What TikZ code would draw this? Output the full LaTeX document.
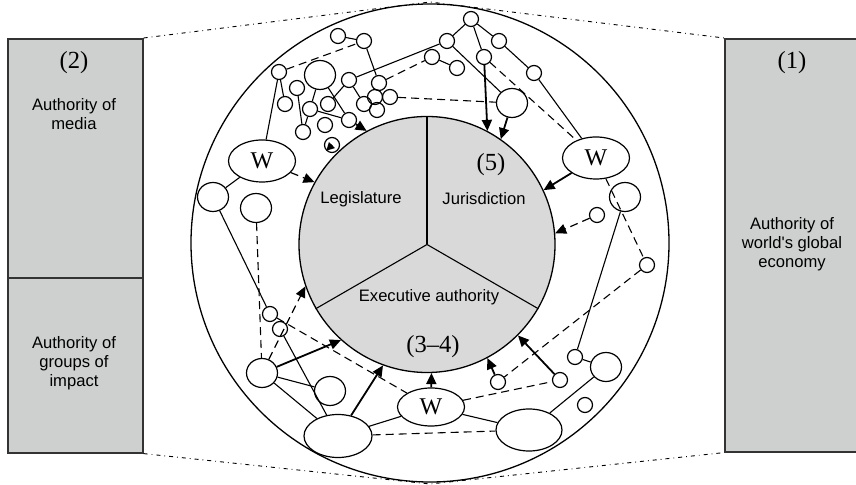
\documentclass[tikz,border=0pt]{standalone}
\usepackage{fontspec}
\setmainfont{Liberation Sans}
\newfontfamily\tnr[Ligatures=TeX]{Liberation Serif}
\usetikzlibrary{arrows.meta,shapes.geometric}
\definecolor{boxgray}{RGB}{206,208,208}
\definecolor{coregray}{RGB}{217,217,217}
\begin{document}
\begin{tikzpicture}[x=0.5pt,y=-0.5pt,
  sc/.style={circle,draw,line width=0.6pt,inner sep=0pt,minimum size=7.5pt},
  mc/.style={ellipse,draw,line width=0.6pt,inner sep=0pt,minimum width=15.5pt,minimum height=14.5pt},
  lc/.style={ellipse,draw,line width=0.6pt,inner sep=0pt,minimum width=34pt,minimum height=21.5pt},
  wn/.style={ellipse,draw,line width=0.6pt,inner sep=0pt,minimum width=33.5pt,minimum height=21pt,font=\tnr\fontsize{12}{12}\selectfont},
  link/.style={line width=0.55pt},
  dlink/.style={line width=0.55pt,dash pattern=on 4pt off 2.5pt},
  push/.style={line width=0.9pt,-{Triangle[length=5.5pt,width=5pt]}},
  dpush/.style={line width=0.6pt,dash pattern=on 4pt off 2.5pt,-{Triangle[length=5.5pt,width=5pt]}},
  frame/.style={line width=0.45pt,dash pattern=on 2pt off 2pt on 0.4pt off 2pt},
  panel/.style={draw=black!80,line width=0.8pt,fill=boxgray,inner sep=0pt,anchor=north west},
  lbl/.style={font=\fontsize{8.3}{9.5}\selectfont,align=center},
  num/.style={font=\tnr\fontsize{12.3}{14}\selectfont}
]
\useasboundingbox (0,0) rectangle (856,485);

% side panels
\node[panel,minimum width=67.5pt,minimum height=119.5pt] (lboxT) at (7,38) {};
\node[panel,minimum width=67.5pt,minimum height=87.5pt] (lboxB) at (7,277) {};
\node[panel,minimum width=68pt,minimum height=206.5pt] (rbox) at (724,38) {};
\node[num] (n2) at (74,63) {(2)};
\node[lbl] (t2) at (74,114) {Authority of\\media};
\node[lbl] (tg) at (74,363) {Authority of\\groups of\\impact};
\node[num] (n1) at (792,63) {(1)};
\node[lbl] (t1) at (792,244) {Authority of\\world\textquotesingle s global\\economy};

% dash-dot frame towards the ring
\coordinate (fTop) at (430,2);
\coordinate (fBot) at (430,484);
\draw[frame] (lboxT.north east) -- (fTop) -- (rbox.north west);
\draw[frame] (lboxB.south east) -- (fBot) -- (rbox.south west);

% ring and core
\node[circle,draw,line width=0.65pt,minimum size=239pt,inner sep=0pt] (ring) at (430,243) {};
\node[circle,draw,fill=coregray,line width=0.65pt,minimum size=128pt,inner sep=0pt] (core) at (427,244.5) {};
\draw[line width=0.55pt] (core.center) -- (core.90);
\draw[line width=0.55pt] (core.center) -- (core.210);
\draw[line width=0.55pt] (core.center) -- (core.330);
\node[lbl] (leg) at (361,199) {Legislature};
\node[lbl] (jur) at (484,199) {Jurisdiction};
\node[num] (n5) at (491,165) {(5)};
\node[lbl] (exe) at (429,297) {Executive authority};
\node[num] (n34) at (433,347) {(3–4)};

% upper left cluster
\node[sc] (A1) at (338,36) {};
\node[sc] (A2) at (364,41) {};
\node[sc] (A3) at (279,72) {};
\node[mc] (A4) at (320,75) {};
\node[sc] (A5) at (297,88) {};
\node[sc] (A6) at (285,104) {};
\node[sc] (A7) at (349,80) {};
\node[sc] (A8) at (379,83) {};
\node[sc] (A9) at (328,104) {};
\node[sc] (A10) at (310,109) {};
\node[sc] (A11) at (364,104) {};
\node[sc] (A12) at (375,97) {};
\node[sc] (A13) at (390,97) {};
\node[sc] (A14) at (377,110) {};
\node[sc] (A15) at (349,120) {};
\node[sc] (A16) at (325,125) {};
\node[sc] (A17) at (303,132) {};
\node[sc] (A18) at (332,145) {};

% upper right cluster
\node[sc] (B1) at (471,19) {};
\node[sc] (B2) at (447,41) {};
\node[sc] (B3) at (432,57) {};
\node[sc] (B4) at (457,68) {};
\node[sc] (B5) at (499,41) {};
\node[sc] (B6) at (484,57) {};
\node[sc] (B7) at (534,73) {};
\node[mc] (C) at (512,103) {};

% W nodes
\node[wn] (W1) at (262,161) {W};
\node[wn] (W2) at (596,158) {W};
\node[wn,minimum height=19pt] (W3) at (431,407) {W};

% left side
\node[mc] (L1) at (213,197) {};
\node[mc] (L2) at (256,208) {};
\node[sc] (G1) at (270,314) {};
\node[sc] (G2) at (280,329) {};
\node[mc] (F1) at (262,373) {};
\node[mc] (F2) at (330,391) {};
\node[lc] (E1) at (338,436) {};

% right side
\node[lc,minimum width=33pt,minimum height=21pt] (E2) at (529,430) {};
\node[sc] (H1) at (498,382) {};
\node[sc] (H2) at (560,380) {};
\node[sc] (I1) at (575,357) {};
\node[mc] (I2) at (606,367) {};
\node[sc] (I3) at (585,405) {};
\node[sc] (D1) at (597,215) {};
\node[mc] (D2) at (625,197) {};
\node[sc] (D3) at (647,265) {};

% solid links
\draw[link] (A1) -- (A2);
\draw[link] (A3) -- (A6);
\draw[link] (A3) -- (W1);
\draw[link] (A2) -- (A8);
\draw[link] (A5) -- (A17);
\draw[link] (A4) -- (A10);
\draw[link] (A4) -- (A15);
\draw[link] (A10) -- (A15);
\draw[link] (A10) -- (A17);
\draw[link] (A9) -- (A7);
\draw[link] (A7) -- (A11);
\draw[link] (A7) -- (B2);
\draw[link] (B1) -- (B2);
\draw[link] (B1) -- (B5);
\draw[link] (B1) -- (B6);
\draw[link] (B3) -- (B4);
\draw[link] (B2) -- (C);
\draw[link] (B5) -- (B7);
\draw[link] (B7) -- (W2);
\draw[link] (L1) -- (W1);
\draw[link] (L1) -- (G1);
\draw[link] (G2) -- (E1);
\draw[link] (F1) -- (F2);
\draw[link] (F1) -- (E1);
\draw[link] (E1) -- (W3);
\draw[link] (W3) -- (E2);
\draw[link] (E2) -- (I2);
\draw[link] (I1) -- (I2);
\draw[link] (I1) -- (D2);

% dashed links
\draw[dlink] (A3) -- (A2);
\draw[dlink] (A8) -- (B3);
\draw[dlink] (A13) -- (C);
\draw[dlink] (B6) -- (W2);
\draw[dlink] (L2) -- (F1);
\draw[dlink] (G1) -- (W3);
\draw[dlink] (E1) -- (E2);
\draw[dlink] (W3) -- (H2);
\draw[dlink] (W2) -- (D3);
\draw[dlink] (D3) -- (H1);

% influence on the core
\draw[push] (A15) -- (core.118);
\draw[push] (B6) -- (core.62);
\draw[push] (C) -- (core.55);
\draw[push] (W2) -- (core.25);
\draw[push] (W3) -- (core.272);
\draw[push] (E1) -- (core.250);
\draw[push] (F1) -- (core.228);
\draw[push] (H1) -- (core.298);
\draw[push] (H2) -- (core.315);
\draw[dpush] (W1) -- (core.151);
\draw[dpush] (D1) -- (core.5);
\draw[dpush] (F1) -- (core.199);
\draw[line width=0.9pt,-{Triangle[length=4pt,width=4pt]}] (A18.center) -- (A18.225);

\end{tikzpicture}
\end{document}
